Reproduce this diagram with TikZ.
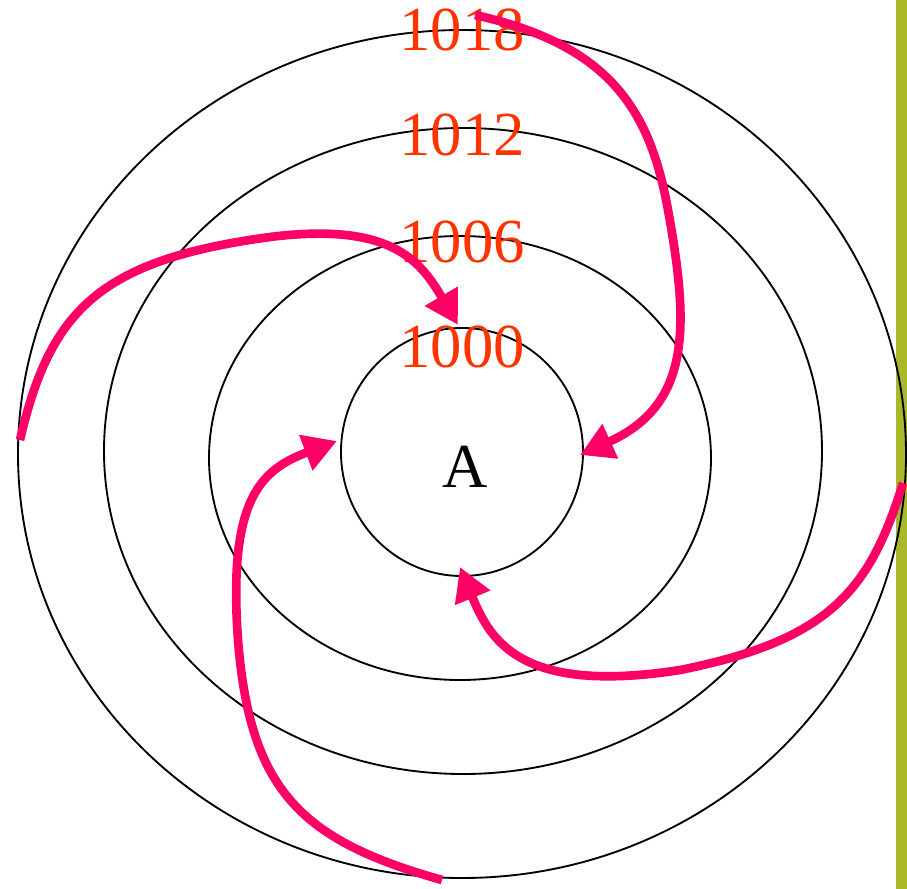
\documentclass[tikz,border=0pt]{standalone}
\usepackage{fontspec}
\setmainfont{Liberation Serif}
\usetikzlibrary{arrows.meta}
\definecolor{isobar}{RGB}{255,51,0}
\definecolor{wind}{RGB}{255,0,102}
\definecolor{sidebar}{RGB}{168,184,40}

\begin{document}
\begin{tikzpicture}[
        x=0.75pt, y=-0.75pt,
        every node/.style={inner sep=0pt, font=\fontsize{47}{47}\selectfont},
        isolabel/.style={text=isobar, anchor=base},
        ring/.style={draw=black, line width=1.4pt},
        windarrow/.style={draw=wind, line width=6.5pt, -{Triangle[length=25pt, width=27pt]}}
    ]
    \useasboundingbox (0,0) rectangle (907,889);
    \fill[sidebar] (896,0) rectangle (907,889);

    % isobars
    \draw[ring] (462,454) ellipse [x radius=444, y radius=424];
    \draw[ring] (463,451) ellipse [x radius=359, y radius=323];
    \draw[ring] (460,458) ellipse [x radius=251, y radius=222];
    \draw[ring] (462,452) ellipse [x radius=121, y radius=124];

    \node[isolabel] (p1018) at (462,50) {1018};
    \node[isolabel] (p1012) at (462,155) {1012};
    \node[isolabel] (p1006) at (462,262) {1006};
    \node[isolabel] (p1000) at (462,367) {1000};
    \node[anchor=base] (high) at (465,487) {A};

    % winds
    \coordinate (w1) at (475,15);
    \coordinate (t1) at (580,455);
    \coordinate (w2) at (20,440);
    \coordinate (t2) at (458,325);
    \coordinate (w3) at (903,483);
    \coordinate (t3) at (460,567);
    \coordinate (w4) at (442,880);
    \coordinate (t4) at (337,441);

    \draw[windarrow] (w1) .. controls (610,45) and (650,110) .. (668,210)
        .. controls (690,330) and (690,405) .. (t1);
    \draw[windarrow] (w2) .. controls (50,310) and (100,260) .. (270,237)
        .. controls (390,222) and (420,260) .. (t2);
    \draw[windarrow] (w3) .. controls (870,590) and (830,640) .. (680,670)
        .. controls (520,695) and (490,640) .. (t3);
    \draw[windarrow] (w4) .. controls (300,840) and (250,790) .. (238,640)
        .. controls (228,500) and (260,470) .. (t4);
\end{tikzpicture}
\end{document}
